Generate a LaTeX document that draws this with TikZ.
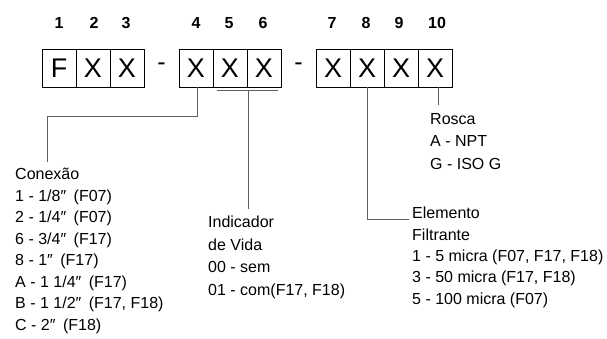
\documentclass[tikz,border=0pt]{standalone}
\usepackage{fontspec}
\setmainfont{Liberation Sans}
\newcommand\inq{″\hspace{7.5pt}}
\begin{document}
\begin{tikzpicture}[x=1pt,y=-1pt,
  cell/.style={draw=black,line width=0.8pt,minimum width=34pt,minimum height=38pt,inner sep=0pt,font=\fontsize{27}{27}\selectfont},
  num/.style={inner sep=0pt,font=\fontsize{16}{16}\selectfont\bfseries},
  sep/.style={inner sep=0pt,font=\fontsize{25}{25}\selectfont},
  lbl/.style={inner sep=0pt,anchor=base west,align=left},
  conn/.style={draw={rgb,255:red,95;green,95;blue,95},line width=0.9pt}]
\useasboundingbox (0,0) rectangle (607,338);
% boxes
\node[cell] (b1) at (59,68) {F};
\node[cell] (b2) at (93,68) {X};
\node[cell] (b3) at (127,68) {X};
\node[sep] (d1) at (161.5,67) {-};
\node[cell] (b4) at (196,68) {X};
\node[cell] (b5) at (230,68) {X};
\node[cell] (b6) at (264,68) {X};
\node[sep] (d2) at (298.5,67) {-};
\node[cell] (b7) at (333,68) {X};
\node[cell] (b8) at (367,68) {X};
\node[cell] (b9) at (401,68) {X};
\node[cell] (b10) at (435,68) {X};
% numbers
\node[num] (n1) at (59,23) {1};
\node[num] (n2) at (94,23) {2};
\node[num] (n3) at (126,23) {3};
\node[num] (n4) at (196,23) {4};
\node[num] (n5) at (229,23) {5};
\node[num] (n6) at (263,23) {6};
\node[num] (n7) at (332,23) {7};
\node[num] (n8) at (366,23) {8};
\node[num] (n9) at (399,23) {9};
\node[num] (n10) at (437,23) {10};
% labels (anchored at the baseline of their last line)
\node[lbl,font=\fontsize{16}{21.5}\selectfont] (conexao) at (15,330) {Conexão\\1 - 1/8\inq(F07)\\2 - 1/4\inq(F07)\\6 - 3/4\inq(F17)\\8 - 1\inq(F17)\\A - 1 1/4\inq(F17)\\B - 1 1/2\inq(F17, F18)\\C - 2\inq(F18)};
\node[lbl,font=\fontsize{16}{22.5}\selectfont] (indicador) at (208,295) {Indicador\\de Vida\\00 - sem\\01 - com(F17, F18)};
\node[lbl,font=\fontsize{16}{22.5}\selectfont] (rosca) at (430,169) {Rosca\\A - NPT\\G - ISO G};
\node[lbl,font=\fontsize{16}{21.3}\selectfont] (elemento) at (412,304) {Elemento\\Filtrante\\1 - 5 micra (F07, F17, F18)\\3 - 50 micra (F17, F18)\\5 - 100 micra (F07)};
% connectors
\coordinate (c1) at (197,116);
\coordinate (c2) at (47,116);
\coordinate (c3) at (47,162);
\draw[conn] (b4.south -| c1) -- (c1) -- (c2) -- (c3);
\coordinate (br1) at (217,90);
\coordinate (br2) at (278,90);
\coordinate (brm) at (248,90);
\coordinate (brd) at (248,209);
\draw[conn] (br1) -- (br2);
\draw[conn] (brm) -- (brd);
\coordinate (e1) at (367,219);
\coordinate (e2) at (409,219);
\draw[conn] (b8.south) -- (e1) -- (e2);
\coordinate (r1) at (438,105);
\draw[conn] (b10.south -| r1) -- (r1);
\end{tikzpicture}
\end{document}
